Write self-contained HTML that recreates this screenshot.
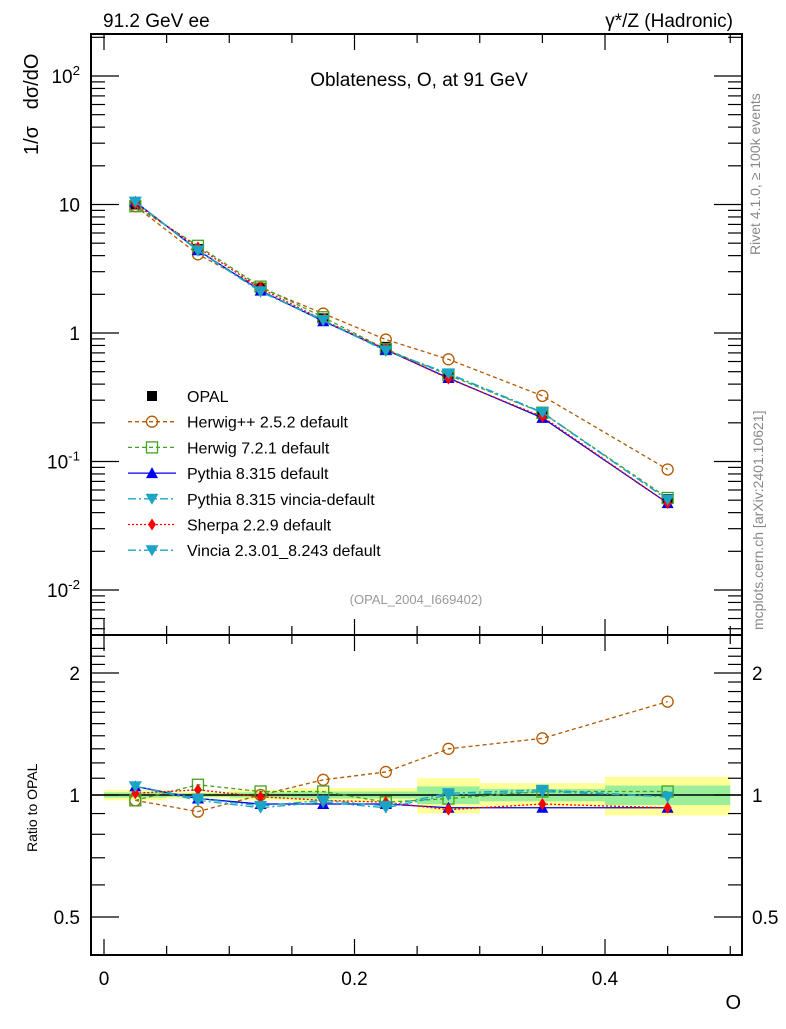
<!DOCTYPE html>
<html><head><meta charset="utf-8"><style>
body{margin:0;background:#fff;}
svg text{font-family:"Liberation Sans",sans-serif;}
</style></head><body>
<svg id="chart" width="786" height="1024" xmlns="http://www.w3.org/2000/svg">
<rect x="0" y="0" width="786" height="1024" fill="#fff"/>
<g id="bands"></g><g id="lines"></g><g id="axes"></g><g id="legend"></g>
<text x="103" y="27" font-size="19">91.2 GeV ee</text>
<text x="733" y="27" font-size="19" text-anchor="end">γ*/Z (Hadronic)</text>
<text x="419" y="86" font-size="19" text-anchor="middle">Oblateness, O, at 91 GeV</text>
<text x="416" y="604" font-size="13" fill="#999" text-anchor="middle">(OPAL_2004_I669402)</text>
<text transform="translate(38,155) rotate(-90)" font-size="20" xml:space="preserve">1/σ   dσ/dO</text>
<text transform="translate(37,852) rotate(-90)" font-size="14">Ratio to OPAL</text>
<text x="741" y="1009" font-size="20" text-anchor="end">O</text>
<text transform="translate(760,255) rotate(-90)" font-size="14" fill="#888">Rivet 4.1.0, ≥ 100k events</text>
<text transform="translate(763,630) rotate(-90)" font-size="14" fill="#888">mcplots.cern.ch [arXiv:2401.10621]</text>
</svg>
<script>
const centers=[0.025,0.075,0.125,0.175,0.225,0.275,0.35,0.45];
const edges=[0,0.05,0.1,0.15,0.2,0.25,0.3,0.4,0.5];
const opal=[10.0,4.5,2.25,1.3,0.78,0.48,0.235,0.051];
const bandYellow=[0.03,0.02,0.03,0.04,0.04,0.10,0.07,0.11];
const bandGreen=[0.015,0.01,0.015,0.02,0.02,0.05,0.035,0.055];
const rHerwigpp=[0.97,0.91,1.0,1.09,1.14,1.3,1.38,1.7];
const rHerwig7=[0.97,1.06,1.02,1.02,0.96,0.98,1.02,1.02];
const rPythia=[1.05,0.98,0.95,0.95,0.95,0.93,0.93,0.93];
const rPyVincia=[1.05,0.97,0.93,0.96,0.93,1.0,1.02,0.99];
const rSherpa=[1.01,1.03,0.99,0.97,0.96,0.92,0.95,0.93];
const rVincia=[1.05,0.98,0.94,0.97,0.94,1.01,1.03,0.99];
const mainTicks=["10^-2","10^-1","1","10","10^2"];

const NS="http://www.w3.org/2000/svg";
const L=91,R=742,T=34,MB=635,RB=955;
const X=v=>104+v*1252.5;
const Ym=v=>333-128.5*Math.log10(v);
const Yr=v=>795-405.3*Math.log10(v);
function mk(tag,attrs,parent){const e=document.createElementNS(NS,tag);for(const k in attrs)e.setAttribute(k,attrs[k]);document.getElementById(parent).appendChild(e);return e;}

edges.slice(0,-1).forEach((e,i)=>{
 let r=mk('rect',{x:X(e),width:X(edges[i+1])-X(e),y:Yr(1+bandYellow[i]),height:Yr(1-bandYellow[i])-Yr(1+bandYellow[i]),fill:'#ffff99'},'bands');
 
 
 let g=mk('rect',{x:X(e),width:X(edges[i+1])-X(e),y:Yr(1+bandGreen[i]),height:Yr(1-bandGreen[i])-Yr(1+bandGreen[i]),fill:'#99ee99'},'bands');
 
 
});
let one=mk('line',{x1:L,x2:R,y1:Yr(1),y2:Yr(1),stroke:'#000','stroke-width':1.5},'bands');



const series=[
 {name:'Herwig++ 2.5.2 default',r:rHerwigpp,c:'#b35900',dash:'4,3',m:'circle'},
 {name:'Herwig 7.2.1 default',r:rHerwig7,c:'#44a020',dash:'4,3',m:'square'},
 {name:'Pythia 8.315 default',r:rPythia,c:'#0000ee',dash:'',m:'tri'},
 {name:'Pythia 8.315 vincia-default',r:rPyVincia,c:'#1ca4c4',dash:'8,3,2,3',m:'tridown'},
 {name:'Sherpa 2.2.9 default',r:rSherpa,c:'#ff0000',dash:'2,2',m:'diamond'},
 {name:'Vincia 2.3.01_8.243 default',r:rVincia,c:'#1ca4c4',dash:'8,3,2,3',m:'tridown'}
];
function marker(m,x,y,c,parent,name){
 let e;
 if(m==='circle')e=mk('circle',{cx:x,cy:y,r:5.5,fill:'none',stroke:c,'stroke-width':1.3},parent);
 else if(m==='square')e=mk('rect',{x:x-5.5,y:y-5.5,width:11,height:11,fill:'none',stroke:c,'stroke-width':1.3},parent);
 else if(m==='tri')e=mk('polygon',{points:`${x},${y-6} ${x-6},${y+5} ${x+6},${y+5}`,fill:c},parent);
 else if(m==='tridown')e=mk('polygon',{points:`${x-6.5},${y-5} ${x+6.5},${y-5} ${x},${y+6}`,fill:c},parent);
 else if(m==='diamond')e=mk('polygon',{points:`${x},${y-6} ${x+4},${y} ${x},${y+6} ${x-4},${y}`,fill:c},parent);
 else e=mk('rect',{x:x-5,y:y-5,width:10,height:10,fill:c},parent);
 
 
}
centers.forEach((c,i)=>{marker('sq',X(c),Ym(opal[i]),'#000','lines','opal-point');});
series.forEach(s=>{
 const pm=centers.map((c,i)=>X(c)+','+Ym(opal[i]*s.r[i])).join(' ');
 const pr=centers.map((c,i)=>X(c)+','+Yr(s.r[i])).join(' ');
 let a=mk('polyline',{points:pm,fill:'none',stroke:s.c,'stroke-width':1.3,'stroke-dasharray':s.dash},'lines');
 
 
 let b=mk('polyline',{points:pr,fill:'none',stroke:s.c,'stroke-width':1.3,'stroke-dasharray':s.dash},'lines');
 
 
 centers.forEach((c,i)=>{marker(s.m,X(c),Ym(opal[i]*s.r[i]),s.c,'lines','main-point');marker(s.m,X(c),Yr(s.r[i]),s.c,'lines','ratio-point');});
});

[[T,MB],[MB,RB]].forEach(([t,b])=>{
 let f=mk('rect',{x:L,y:t,width:R-L,height:b-t,fill:'none',stroke:'#000','stroke-width':2},'axes');
 
 
});
function tick(x1,y1,x2,y2){let t=mk('line',{x1,y1,x2,y2,stroke:'#000','stroke-width':1.2},'axes');}
function label(x,y,txt,anchor,size,sup){let t=mk('text',{x,y,'font-size':size,'text-anchor':anchor},'axes');t.textContent=txt;if(sup){let s=document.createElementNS(NS,'tspan');s.setAttribute('dy','-8');s.setAttribute('font-size',size*0.7);s.textContent=sup;t.appendChild(s);}}
for(let k=0;k<=10;k++){const v=k*0.05;const x=X(v);const maj=k%4===0;const len=maj?16:9;
 [[MB,1],[RB,1],[T,-1],[MB,-1]].forEach(([y,d])=>tick(x,y,x,y-d*len));}
[0,0.2,0.4].forEach(v=>label(X(v),985,String(v),'middle',19));
for(let e=-3;e<=2;e++){for(let m=1;m<10;m++){const v=m*Math.pow(10,e);const y=Ym(v);if(y<T||y>MB)continue;const len=m===1?28:14;tick(L,y,L+len,y);tick(R,y,R-len,y);}}
mainTicks.forEach((t,i)=>{const e=i-2;const y=Ym(Math.pow(10,e))+7;if(t.includes('^')){const p=t.split('^');label(80,y,p[0],'end',19,p[1]);}else label(80,y,t,'end',19);});
for(let m=4;m<=23;m++){const v=m/10;if(v<0.5&&m!==4)continue;const y=Yr(v);if(y<MB||y>RB)continue;const maj=(v===0.5||v===1||v===2);const len=maj?28:14;tick(L,y,L+len,y);tick(R,y,R-len,y);}
[[0.5,'0.5'],[1,'1'],[2,'2']].forEach(([v,t])=>{label(80,Yr(v)+7,t,'end',19);label(752,Yr(v)+7,t,'start',19);});

const lg=[{name:'OPAL',c:'#000',dash:'',m:'sq',noline:true}].concat(series);
lg.forEach((s,i)=>{const y=396+i*25.7;
 if(!s.noline){let l=mk('line',{x1:128,x2:176,y1:y,y2:y,stroke:s.c,'stroke-width':1.3,'stroke-dasharray':s.dash},'legend');}
 marker(s.m,152,y,s.c,'legend','legend-marker');
 let t=mk('text',{x:187,y:y+6,'font-size':16},'legend');t.textContent=s.name;});
</script>
</body></html>
